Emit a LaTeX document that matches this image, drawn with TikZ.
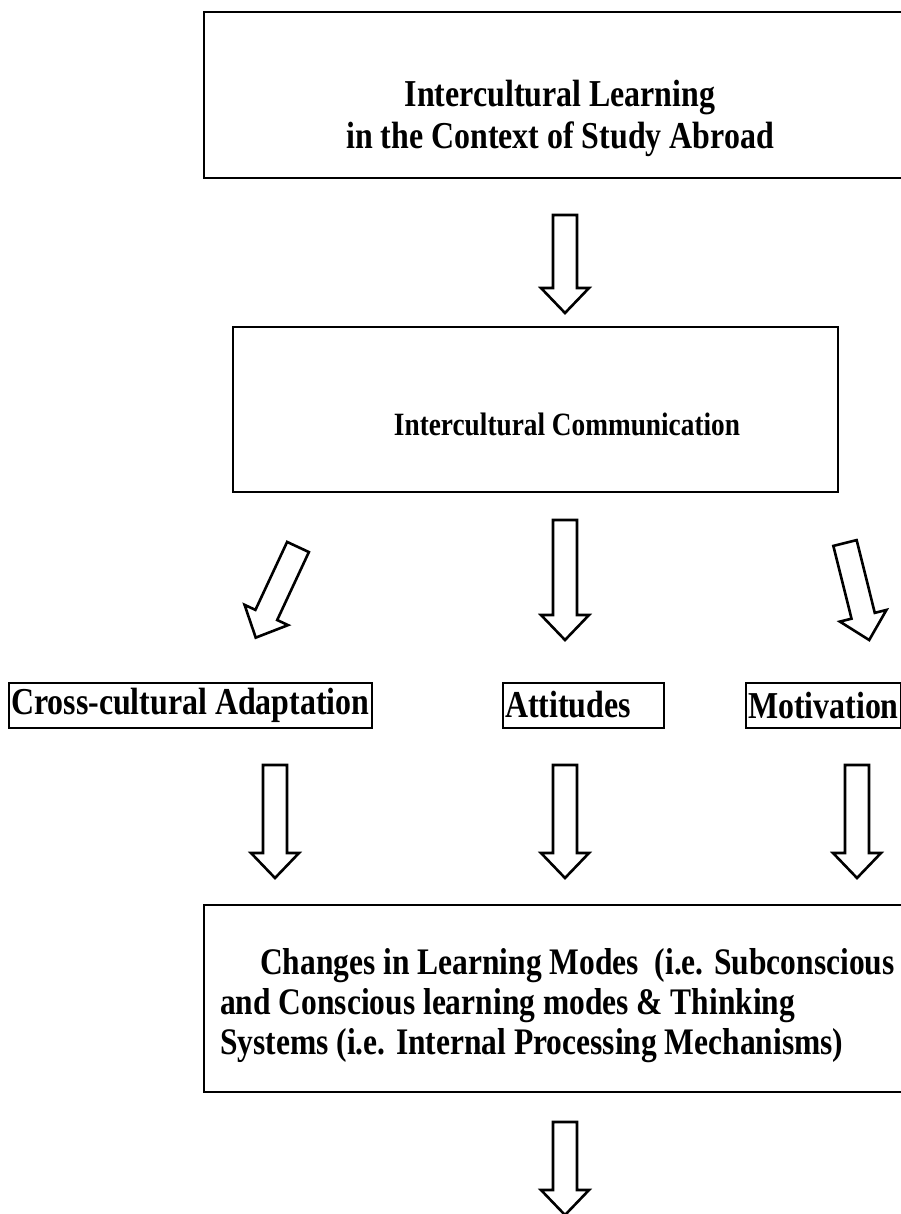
\documentclass[tikz,border=0pt]{standalone}
\usepackage{fontspec}
\setmainfont{Liberation Serif}[FakeStretch=0.84]
\usetikzlibrary{positioning}
\tikzset{
  boxline/.style={line width=2pt},
  arrowline/.style={line width=2.6pt,line join=miter},
  pics/blockarrow/.style={code={
    \draw[arrowline] (-12,0) -- (12,0) -- (12,#1-25) -- (24,#1-25) -- (0,#1) -- (-24,#1-25) -- (-12,#1-25) -- cycle;}},
  every node/.style={font=\bfseries\fontsize{38}{42}\selectfont,inner sep=0pt},
  smallbox/.style={draw,boxline,anchor=west,inner xsep=2pt,inner ysep=0pt,minimum height=45pt,align=left}
}

\begin{document}
\begin{tikzpicture}[x=1pt,y=-1pt]
	\useasboundingbox (0,0) rectangle (901,1214);
	%Top box
	\coordinate (RE1LT) at (204,12); %RE1LT= Rectangle 1 left top
	\coordinate (RE1RB) at (912,178); %RE1RB= Rectangle 1 right bottom
	\draw [boxline] (RE1LT) rectangle (RE1RB);
	\node [align=center] (learn) at (560,118) {Intercultural Learning\\ in the Context of Study Abroad};
	\pic at (565,215) {blockarrow=98};
	%Second box
	\coordinate (RE2LT) at (233,327);
	\coordinate (RE2RB) at (838,492);
	\draw [boxline] (RE2LT) rectangle (RE2RB);
	\node [font=\bfseries\fontsize{32.5}{38}\selectfont] (comm) at (567,424) {Intercultural Communication};
	%Three branches
	\pic [rotate=-25] at (298,547) {blockarrow=100};
	\pic at (565,520) {blockarrow=120};
	\pic [rotate=14] at (845,543) {blockarrow=100};
	\node [smallbox] (adapt) at (8,705) {Cross-cultural Adaptation};
	\node [smallbox,text width=157pt] (attit) at (502,705) {Attitudes};
	\node [smallbox] (motiv) at (745,705) {Motivation};
	\pic at (275,765) {blockarrow=113};
	\pic at (565,765) {blockarrow=113};
	\pic at (857,765) {blockarrow=113};
	%Bottom box
	\coordinate (RE3LT) at (204,905);
	\coordinate (RE3RB) at (912,1092);
	\draw [boxline] (RE3LT) rectangle (RE3RB);
	\node [anchor=west,align=left,font=\bfseries\fontsize{37.5}{40}\selectfont] (modes) at (220,1006) {\hspace{40pt}Changes in Learning Modes~ (i.e. Subconscious\\and Conscious learning modes \& Thinking\\Systems (i.e. Internal Processing Mechanisms)};
	\pic at (565,1122) {blockarrow=93};
\end{tikzpicture}
\end{document}
